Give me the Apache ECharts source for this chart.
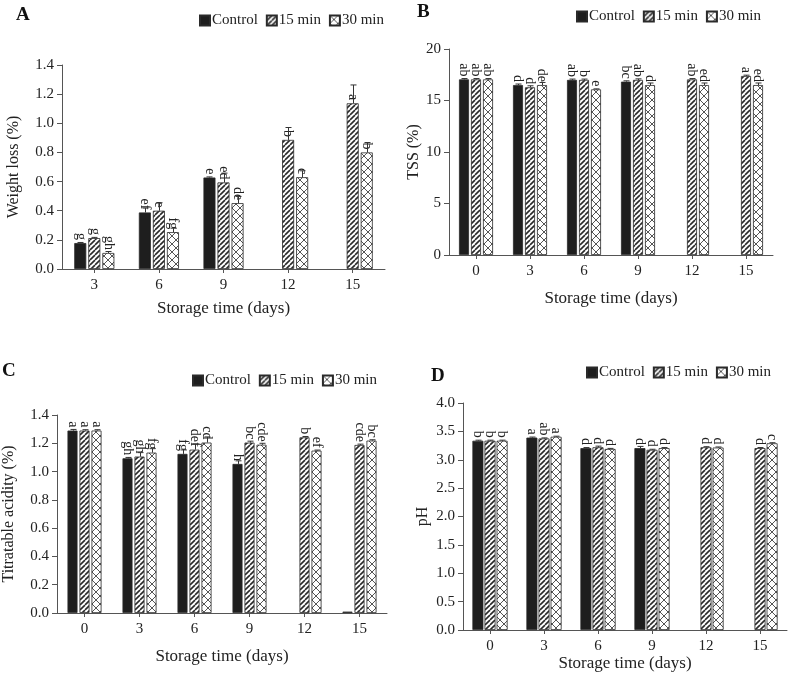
<!DOCTYPE html>
<html>
<head>
<meta charset="utf-8">
<script src="https://cdn.jsdelivr.net/npm/echarts@6/dist/echarts.min.js"></script>
<style>
html,body{margin:0;padding:0;background:#fff;}
#c{width:788px;height:676px;}
</style>
</head>
<body>
<div id="c"></div>
<script>
// ---------- DATA ----------
const seriesNames = ['Control', '15 min', '30 min'];
const daysA = ['3', '6', '9', '12', '15'];
const daysAll = ['0', '3', '6', '9', '12', '15'];

// A: Weight loss (%)
const wlControl = [0.178, 0.388, 0.628, null, null];
const wl15 = [0.212, 0.400, 0.594, 0.886, 1.137];
const wl30 = [0.110, 0.253, 0.452, 0.630, 0.800];
const wlErrControl = [0.004, 0.030, 0.004, 0, 0];
const wlErr15 = [0.005, 0.055, 0.064, 0.085, 0.126];
const wlErr30 = [0.010, 0.027, 0.046, 0.044, 0.068];
const wlLetControl = ['g', 'ef', 'e', '', ''];
const wlLet15 = ['g', 'e', 'ed', 'b', 'a'];
const wlLet30 = ['gh', 'fg', 'de', 'c', 'b'];

// B: TSS (%)
const tssControl = [17.05, 16.5, 17.0, 16.83, null, null];
const tss15 = [17.05, 16.28, 17.0, 17.0, 17.05, 17.38];
const tss30 = [17.05, 16.5, 16.08, 16.5, 16.5, 16.5];
const tssErrControl = [0.08, 0.1, 0.08, 0.08, 0, 0];
const tssErr15 = [0.08, 0.15, 0.08, 0.1, 0.08, 0.08];
const tssErr30 = [0.08, 0.25, 0.05, 0.2, 0.2, 0.2];
const tssLetControl = ['ab', 'd', 'ab', 'bc', '', ''];
const tssLet15 = ['ab', 'd', 'b', 'ab', 'ab', 'a'];
const tssLet30 = ['ab', 'de', 'e', 'd', 'ed', 'ed'];

// C: Titratable acidity (%)
const taControl = [1.29, 1.094, 1.125, 1.054, null, 0.01];
const ta15 = [1.29, 1.106, 1.155, 1.205, 1.242, 1.188];
const ta30 = [1.29, 1.134, 1.205, 1.19, 1.148, 1.219];
const taErrControl = [0.008, 0.006, 0.028, 0.022, 0, 0];
const taErr15 = [0.006, 0.028, 0.04, 0.01, 0.006, 0.006];
const taErr30 = [0.006, 0.028, 0.04, 0.01, 0.004, 0.006];
const taLetControl = ['a', 'gh', 'fg', 'h', '', ''];
const taLet15 = ['a', 'gh', 'def', 'bc', 'b', 'cde'];
const taLet30 = ['a', 'fg', 'cd', 'cde', 'ef', 'bc'];

// D: pH
const phControl = [3.335, 3.39, 3.205, 3.205, null, null];
const ph15 = [3.335, 3.375, 3.22, 3.175, 3.22, 3.205];
const ph30 = [3.335, 3.405, 3.19, 3.205, 3.215, 3.29];
const phErrControl = [0.01, 0.01, 0.01, 0.03, 0, 0];
const phErr15 = [0.01, 0.01, 0.02, 0.01, 0.01, 0.01];
const phErr30 = [0.01, 0.01, 0.01, 0.01, 0.01, 0.01];
const phLetControl = ['b', 'a', 'd', 'd', '', ''];
const phLet15 = ['b', 'ab', 'd', 'd', 'd', 'd'];
const phLet30 = ['b', 'a', 'd', 'd', 'd', 'c'];

// ---------- STYLE ----------
const FONT = 'Liberation Serif';
const TXT = '#222';
const AX = '#555';

function stripePattern() {
  const s = 5, c = document.createElement('canvas');
  c.width = s; c.height = s;
  const g = c.getContext('2d');
  g.fillStyle = '#fff'; g.fillRect(0, 0, s, s);
  g.strokeStyle = '#2a2a2a'; g.lineWidth = 1.6;
  for (const k of [-s, 0, s]) { g.beginPath(); g.moveTo(k, s); g.lineTo(k + s, 0); g.stroke(); }
  return c;
}
function crossPattern() {
  const s = 8, c = document.createElement('canvas');
  c.width = s; c.height = s;
  const g = c.getContext('2d');
  g.fillStyle = '#fff'; g.fillRect(0, 0, s, s);
  g.strokeStyle = '#555'; g.lineWidth = 1;
  g.beginPath(); g.moveTo(0, 0); g.lineTo(s, s); g.stroke();
  g.beginPath(); g.moveTo(0, s); g.lineTo(s, 0); g.stroke();
  return c;
}
const fills = [
  '#1e1e1e',
  { image: stripePattern(), repeat: 'repeat' },
  { image: crossPattern(), repeat: 'repeat' }
];

const panels = [
  { cats: daysA, vals: [wlControl, wl15, wl30], errs: [wlErrControl, wlErr15, wlErr30], lets: [wlLetControl, wlLet15, wlLet30],
    grid: { left: 62, top: 65, width: 323, height: 204 }, min: 0, max: 1.4, interval: 0.2, dec: 1,
    yName: 'Weight loss (%)', yGap: 40, xGap: 31, barWidth: 12, gapPct: 0.17,
    legend: { left: 199, top: 13 }, letter: 'A', letterPos: [16, 6] },
  { cats: daysAll, vals: [tssControl, tss15, tss30], errs: [tssErrControl, tssErr15, tssErr30], lets: [tssLetControl, tssLet15, tssLet30],
    grid: { left: 449, top: 49, width: 324, height: 206 }, min: 0, max: 20, interval: 5, dec: 0,
    yName: 'TSS (%)', yGap: 26, xGap: 35, barWidth: 10, gapPct: 0.2,
    legend: { left: 576, top: 9 }, letter: 'B', letterPos: [417, 3] },
  { cats: daysAll, vals: [taControl, ta15, ta30], errs: [taErrControl, taErr15, taErr30], lets: [taLetControl, taLet15, taLet30],
    grid: { left: 57, top: 415, width: 330, height: 198 }, min: 0, max: 1.4, interval: 0.2, dec: 1,
    yName: 'Titratable acidity (%)', yGap: 40, xGap: 35, barWidth: 10, gapPct: 0.2,
    legend: { left: 192, top: 373 }, letter: 'C', letterPos: [2, 362] },
  { cats: daysAll, vals: [phControl, ph15, ph30], errs: [phErrControl, phErr15, phErr30], lets: [phLetControl, phLet15, phLet30],
    grid: { left: 463, top: 403, width: 324, height: 227 }, min: 0, max: 4.0, interval: 0.5, dec: 1,
    yName: 'pH', yGap: 32, xGap: 23, barWidth: 11, gapPct: 0.1,
    legend: { left: 586, top: 365 }, letter: 'D', letterPos: [431, 367] }
];

const grids = [], xAxes = [], yAxes = [], series = [], legends = [], graphics = [];
panels.forEach((p, pi) => {
  grids.push(Object.assign({ containLabel: false }, p.grid));
  xAxes.push({
    type: 'category', gridIndex: pi, data: p.cats,
    name: 'Storage time (days)', nameLocation: 'middle', nameGap: p.xGap,
    nameTextStyle: { fontFamily: FONT, fontSize: 17, color: TXT },
    axisLine: { lineStyle: { color: AX, width: 1 } },
    axisTick: { show: true, alignWithLabel: true, length: 4, lineStyle: { color: AX } },
    axisLabel: { fontFamily: FONT, fontSize: 15, color: TXT, margin: 9 }
  });
  yAxes.push({
    type: 'value', gridIndex: pi, min: p.min, max: p.max, interval: p.interval,
    name: p.yName, nameLocation: 'middle', nameGap: p.yGap, nameRotate: 90,
    nameTextStyle: { fontFamily: FONT, fontSize: 16, color: TXT },
    axisLine: { show: true, lineStyle: { color: AX, width: 1 } },
    axisTick: { show: true, length: 5, lineStyle: { color: AX } },
    splitLine: { show: false },
    axisLabel: { fontFamily: FONT, fontSize: 15, color: TXT, margin: 8,
      formatter: v => Number(v).toFixed(p.dec) }
  });
  legends.push({
    data: seriesNames, left: p.legend.left, top: p.legend.top, padding: 0,
    itemWidth: 10, itemHeight: 10, itemGap: 8, icon: 'rect', selectedMode: false,
    textStyle: { fontFamily: FONT, fontSize: 15, color: TXT, padding: [0, 0, 0, -3] }
  });
  graphics.push({
    type: 'text', left: p.letterPos[0], top: p.letterPos[1],
    style: { text: p.letter, font: 'bold 19px "Liberation Serif"', fill: '#111' }
  });
  const w = p.barWidth, pitch = w * (1 + p.gapPct);
  seriesNames.forEach((name, si) => {
    const lets = p.lets[si];
    series.push({
      type: 'bar', name: name, xAxisIndex: pi, yAxisIndex: pi,
      data: p.vals[si].map(v => v === null ? '-' : v),
      barWidth: w, barGap: (p.gapPct * 100) + '%',
      itemStyle: { color: fills[si], borderColor: '#2a2a2a', borderWidth: 0.8 },
      label: {
        show: true, position: 'top', rotate: -90, align: 'right', verticalAlign: 'middle',
        distance: 3, fontFamily: FONT, fontSize: 14, color: TXT,
        formatter: prm => lets[prm.dataIndex] || ''
      },
      emphasis: { disabled: true }, silent: true
    });
    const off = (si - 1) * pitch;
    const errData = [];
    p.vals[si].forEach((v, i) => { if (v !== null && p.errs[si][i] > 0) errData.push([i, v, p.errs[si][i]]); });
    series.push({
      type: 'custom', xAxisIndex: pi, yAxisIndex: pi, data: errData, silent: true, z: 5,
      renderItem: (params, api) => {
        const b = api.coord([api.value(0), api.value(1)]);
        const t = api.coord([api.value(0), api.value(1) + api.value(2)]);
        const cx = Math.round(b[0] + off) + 0.5;
        const st = { stroke: '#333', lineWidth: 1 };
        return { type: 'group', children: [
          { type: 'line', shape: { x1: cx, y1: b[1], x2: cx, y2: t[1] }, style: st },
          { type: 'line', shape: { x1: cx - 3, y1: t[1], x2: cx + 3, y2: t[1] }, style: st }
        ] };
      }
    });
  });
});

const chart = echarts.init(document.getElementById('c'), null, { renderer: 'canvas' });
chart.setOption({
  animation: false,
  backgroundColor: '#fff',
  grid: grids, xAxis: xAxes, yAxis: yAxes, legend: legends, series: series, graphic: graphics
});
</script>
</body>
</html>
